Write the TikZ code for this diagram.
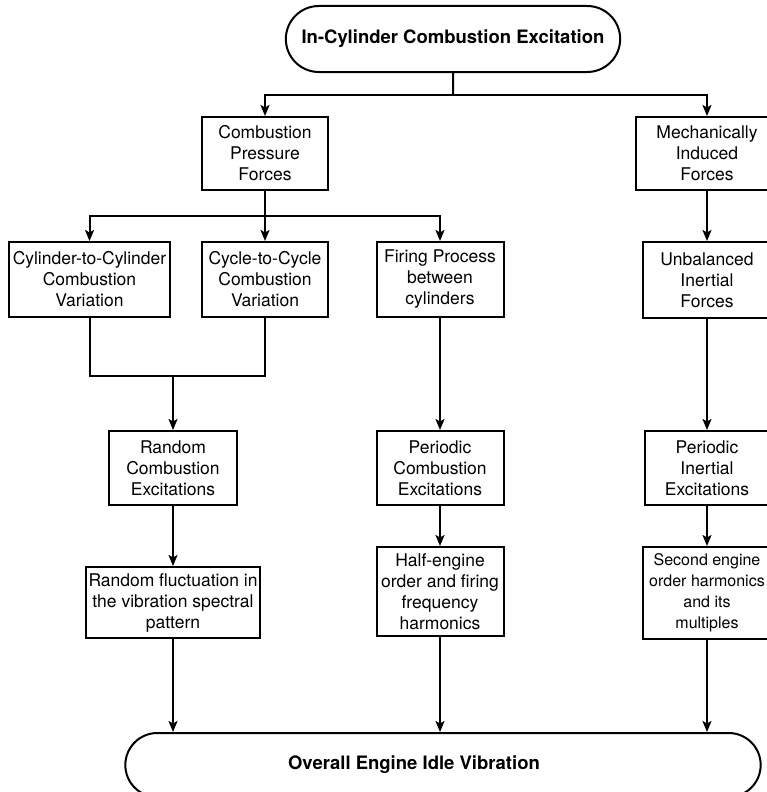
\documentclass[tikz,border=0pt]{standalone}
\usepackage{fontspec}
\setmainfont{TeX Gyre Heros}
\usetikzlibrary{arrows.meta, shapes.misc, positioning}

\begin{document}
\begin{tikzpicture}[x=1pt, y=-1pt,
  box/.style={rectangle, draw, line width=2pt, minimum width=#1,
              inner xsep=1pt, align=center,
              font=\fontsize{17.5}{21}\selectfont},
  oval/.style={rounded rectangle, draw, line width=2pt,
              font=\fontsize{18.5}{22}\selectfont\bfseries},
  arr/.style={-{Stealth[length=11pt, width=9pt, inset=2.5pt]}, line width=2pt},
  wire/.style={line width=2pt}
]
\useasboundingbox (0,0) rectangle (766,792);

\node[oval, minimum width=341, minimum height=66] (incyl) at (453,39) {In-Cylinder Combustion Excitation};

\node[box=126, minimum height=73] (press)    at (265,153.5) {Combustion\\Pressure\\Forces};
\node[box=142, minimum height=73] (mech)     at (707,153.5) {Mechanically\\Induced\\Forces};

\node[box=161, minimum height=75] (cyl)      at (89.5,279.5) {Cylinder-to-Cylinder\\Combustion\\Variation};
\node[box=126, minimum height=75] (cycle)    at (265,279.5)  {Cycle-to-Cycle\\Combustion\\Variation};
\node[box=127, minimum height=75] (firing)   at (440,279.5)  {Firing Process\\between\\cylinders};
\node[box=128, minimum height=76] (unbal)    at (707,280)    {Unbalanced\\Inertial\\Forces};

\node[box=128, minimum height=74] (random)   at (173,468) {Random\\Combustion\\Excitations};
\node[box=127, minimum height=74] (percomb)  at (440,468) {Periodic\\Combustion\\Excitations};
\node[box=125, minimum height=74] (perinert) at (707,468) {Periodic\\Inertial\\Excitations};

\node[box=174, minimum height=71] (fluct)    at (173,602.5) {Random fluctuation in\\the vibration spectral\\pattern};
\node[box=127, minimum height=89] (half)     at (440,591.5) {Half-engine\\order and firing\\frequency\\harmonics};
\node[box=128, minimum height=92, font=\fontsize{16}{21}\selectfont] (second) at (707,593) {Second engine\\order harmonics\\and its\\multiples};

\node[oval, minimum width=642, minimum height=64] (idle) at (443,765) {Overall Engine Idle Vibration\hspace*{58pt}};

\coordinate (top)  at (453,95);
\coordinate (mid)  at (265,216);
\coordinate (join) at (173,376);

\draw[wire] (incyl) -- (top);
\draw[arr] (top) -| (press);
\draw[arr] (top) -| (mech);
\draw[wire] (press) -- (mid);
\draw[arr] (mid) -| (cyl);
\draw[arr] (mid) -- (cycle);
\draw[arr] (mid) -| (firing);
\draw[arr] (mech) -- (unbal);
\draw[wire] (cyl) |- (join);
\draw[wire] (cycle) |- (join);
\draw[arr] (join) -- (random);
\draw[arr] (firing) -- (percomb);
\draw[arr] (unbal) -- (perinert);
\draw[arr] (random) -- (fluct);
\draw[arr] (percomb) -- (half);
\draw[arr] (perinert) -- (second);
\draw[arr] (fluct) -- (fluct |- idle.north);
\draw[arr] (half) -- (half |- idle.north);
\draw[arr] (second) -- (second |- idle.north);
\end{tikzpicture}
\end{document}
